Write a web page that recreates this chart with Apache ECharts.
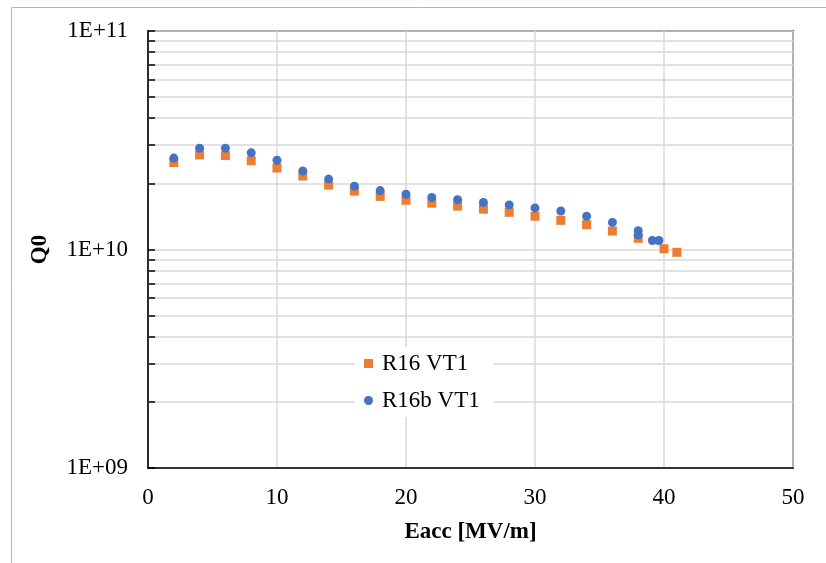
<!DOCTYPE html>
<html>
<head>
<meta charset="utf-8">
<script src="https://cdn.jsdelivr.net/npm/echarts@6/dist/echarts.min.js"></script>
<style>
  html, body { margin: 0; padding: 0; background: #fff; }
  #chart { width: 826px; height: 563px; }
</style>
</head>
<body>
<div id="chart"></div>
<script>
// R16 VT1 (orange squares)
var eaccR16 = [2, 4, 6, 8, 10, 12, 14, 16, 18, 20, 22, 24, 26, 28, 30, 32, 34, 36, 38, 40, 41];
var q0R16 = [2.50e10, 2.71e10, 2.69e10, 2.55e10, 2.36e10, 2.17e10, 1.97e10, 1.85e10, 1.75e10, 1.68e10,
             1.63e10, 1.58e10, 1.53e10, 1.48e10, 1.42e10, 1.36e10, 1.30e10, 1.215e10, 1.125e10, 1.008e10, 0.971e10];

// R16b VT1 (blue circles)
var eaccR16b = [2, 4, 6, 8, 10, 12, 14, 16, 18, 20, 22, 24, 26, 28, 30, 32, 34, 36, 38, 38, 39.1, 39.6];
var q0R16b = [2.62e10, 2.91e10, 2.91e10, 2.77e10, 2.56e10, 2.29e10, 2.10e10, 1.95e10, 1.86e10, 1.79e10,
              1.73e10, 1.69e10, 1.64e10, 1.60e10, 1.55e10, 1.50e10, 1.42e10, 1.33e10, 1.22e10, 1.165e10, 1.10e10, 1.10e10];

// log axis minor positions (2..9 per decade)
var minorQ = [2e9, 3e9, 4e9, 5e9, 6e9, 7e9, 8e9, 9e9, 2e10, 3e10, 4e10, 5e10, 6e10, 7e10, 8e10, 9e10];

var myChart = echarts.init(document.getElementById('chart'));

var mdata = [];
minorQ.forEach(function (v) {
    mdata.push([{ coord: [0, v] }, { coord: [50, v] }]);
});
var tdata = [];
minorQ.forEach(function (v) {
    tdata.push([{ coord: [0, v] }, { coord: [0.55, v] }]);
});

var font = 'Liberation Serif, Times New Roman, serif';

option = {
    animation: false,
    backgroundColor: '#fff',
    graphic: [
        { type: 'line', shape: { x1: 11.5, y1: 7.5, x2: 826, y2: 7.5 }, style: { stroke: '#b4b4b4', lineWidth: 1 } },
        { type: 'line', shape: { x1: 11.5, y1: 7.5, x2: 11.5, y2: 563 }, style: { stroke: '#b4b4b4', lineWidth: 1 } }
    ],
    grid: {
        left: 148,
        right: 33,
        top: 31,
        bottom: 95,
        show: true,
        borderColor: '#000',
        borderWidth: 1.5
    },
    legend: {
        z: 20,
        orient: 'vertical',
        left: 355,
        top: 347,
        padding: [4, 14, 4, 9],
        backgroundColor: '#fff',
        itemWidth: 9,
        itemHeight: 9,
        itemGap: 12,
        textStyle: { fontFamily: font, fontSize: 23, color: '#000', lineHeight: 25, padding: [0, 0, 0, 4] },
        data: [
            { name: 'R16 VT1', icon: 'rect' },
            { name: 'R16b VT1', icon: 'circle' }
        ]
    },
    xAxis: {
        type: 'value',
        min: 0,
        max: 50,
        interval: 10,
        name: 'Eacc [MV/m]',
        nameLocation: 'middle',
        nameGap: 53,
        nameTextStyle: { fontFamily: font, fontSize: 23, fontWeight: 'bold', color: '#000' },
        axisLine: { show: true, lineStyle: { color: '#000', width: 1.5 } },
        axisTick: { show: false },
        axisLabel: { fontFamily: font, fontSize: 23, color: '#000', margin: 18 },
        splitLine: { show: true, lineStyle: { color: '#d9d9d9', width: 1.5 } }
    },
    yAxis: {
        type: 'log',
        logBase: 10,
        min: 1e9,
        max: 1e11,
        name: 'Q0',
        nameLocation: 'middle',
        nameGap: 96,
        nameRotate: 90,
        nameTextStyle: { fontFamily: font, fontSize: 23, fontWeight: 'bold', color: '#000' },
        axisLine: { show: true, lineStyle: { color: '#000', width: 1.5 } },
        axisTick: { show: true, inside: true, length: 7, lineStyle: { color: '#000', width: 1.5 } },
        axisLabel: {
            fontFamily: font, fontSize: 23, color: '#000', margin: 20,
            formatter: function (v) {
                var e = Math.round(Math.log10(v));
                return '1E+' + (e < 10 ? '0' + e : e);
            }
        },
        splitLine: { show: true, lineStyle: { color: '#d9d9d9', width: 1.5 } }
    },
    series: [
        {
            name: 'R16 VT1',
            type: 'scatter',
            symbol: 'rect',
            symbolSize: 9,
            itemStyle: { color: '#ED7D31', opacity: 1 },
            data: eaccR16.map(function (x, i) { return [x, q0R16[i]]; }),
            markLine: {
                silent: true,
                z: 1,
                symbol: 'none',
                label: { show: false },
                lineStyle: { color: '#d9d9d9', width: 1.5, type: 'solid' },
                data: mdata
            }
        },
        {
            name: 'R16b VT1',
            type: 'scatter',
            symbol: 'circle',
            symbolSize: 9,
            itemStyle: { color: '#4472C4', opacity: 1 },
            data: eaccR16b.map(function (x, i) { return [x, q0R16b[i]]; }),
            markLine: {
                silent: true,
                symbol: 'none',
                label: { show: false },
                lineStyle: { color: '#000', width: 1.5, type: 'solid' },
                data: tdata
            }
        }
    ]
};

myChart.setOption(option);
</script>
</body>
</html>
